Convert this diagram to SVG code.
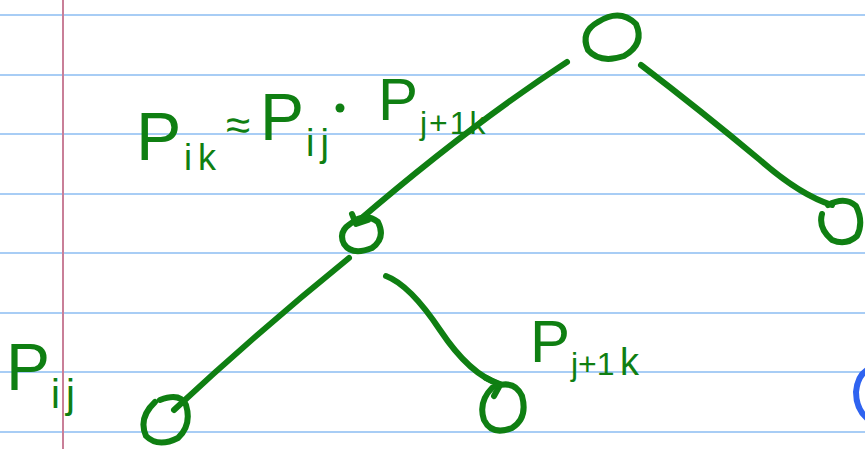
<svg xmlns="http://www.w3.org/2000/svg" width="865" height="449" viewBox="0 0 865 449">
<style>
.rule{stroke:#a8cdf5;stroke-width:2}
.ink{fill:none;stroke:#0f7f12;stroke-width:6;stroke-linecap:round;stroke-linejoin:round}
.t{fill:#0f7f12;font-family:"Liberation Sans","DejaVu Sans",sans-serif}
</style>
<rect width="865" height="449" fill="#fff"/>
<g id="paper">
<line class="rule" x1="0" y1="15" x2="865" y2="15"/>
<line class="rule" x1="0" y1="75" x2="865" y2="75"/>
<line class="rule" x1="0" y1="134" x2="865" y2="134"/>
<line class="rule" x1="0" y1="194" x2="865" y2="194"/>
<line class="rule" x1="0" y1="253" x2="865" y2="253"/>
<line class="rule" x1="0" y1="313" x2="865" y2="313"/>
<line class="rule" x1="0" y1="372" x2="865" y2="372"/>
<line class="rule" x1="0" y1="432" x2="865" y2="432"/>
<line x1="63" y1="0" x2="63" y2="449" stroke="#c97f98" stroke-width="2"/>
</g>
<g id="connectors">
<path class="ink" d="M567 62 Q470 125 357 222"/>
<path class="ink" d="M352 214 L356 224 L368 220"/>
<path class="ink" d="M641 65 Q700 110 760 160 Q800 195 832 205"/>
<path class="ink" d="M349 258 Q260 330 174 410"/>
<path class="ink" d="M386 276 Q410 285 440 330 Q470 375 500 384"/>
<path class="ink" d="M486 378 L500 385 L494 396"/>
</g>
<g id="n-top"><path class="ink" d="M598 22 Q620 8 636 24 Q645 44 624 56 Q600 64 588 50 Q580 32 598 22"/></g>
<g id="n-mid"><path class="ink" d="M350 224 Q365 212 378 222 Q386 238 372 248 Q352 256 344 244 Q338 232 350 224"/></g>
<g id="n-right"><path class="ink" d="M828 205 Q845 196 856 206 Q864 222 857 236 Q846 246 832 240 Q818 228 822 214"/></g>
<g id="n-bl"><path class="ink" d="M160 400 Q180 392 186 405 Q192 425 178 438 Q158 448 146 436 Q138 418 155 402"/></g>
<g id="n-br"><path class="ink" d="M496 386 Q515 380 522 396 Q528 418 512 428 Q492 436 484 420 Q478 402 492 388"/></g>
<g id="blue"><path d="M872 368 Q858 372 856 392 Q856 412 872 422" fill="none" stroke="#2f63f0" stroke-width="6"/></g>
<g id="formula">
<text class="t" x="136" y="160" font-size="68">P<tspan x="184" y="170" font-size="36" letter-spacing="6">ik</tspan><tspan x="226" y="140" font-size="44">≈</tspan><tspan x="260" y="140" font-size="66">P</tspan><tspan x="306" y="156" font-size="38" letter-spacing="6">ij</tspan><tspan x="378" y="120" font-size="60">P</tspan><tspan x="420" y="134" font-size="32" letter-spacing="2">j+1k</tspan></text>
<circle cx="340" cy="108" r="4.5" fill="#0f7f12"/>
</g>
<g id="label-pij">
<text class="t" x="6" y="390" font-size="66">P<tspan x="51" y="408" font-size="40" letter-spacing="6">ij</tspan></text>
</g>
<g id="label-pj1k">
<text class="t" x="530" y="362" font-size="60">P<tspan x="571" y="375" font-size="32">j+1</tspan><tspan x="620" y="375" font-size="38">k</tspan></text>
</g>
</svg>
